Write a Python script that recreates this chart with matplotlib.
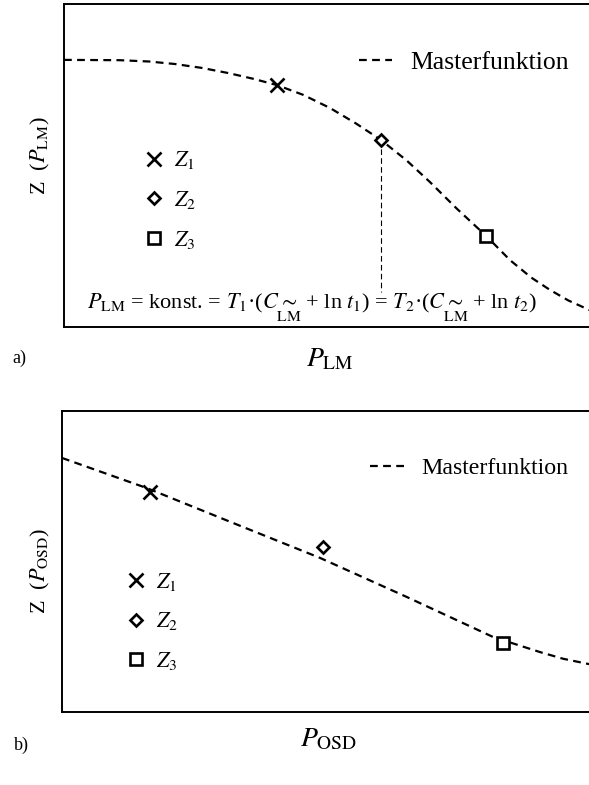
"""Masterfunktion sketch: Z over P_LM (a) and Z over P_OSD (b)."""
import matplotlib
matplotlib.use("Agg")
import matplotlib.pyplot as plt

plt.rcParams["font.family"] = ["Liberation Serif", "DejaVu Serif"]
plt.rcParams["mathtext.fontset"] = "stix"

# --- data (axis units 0..100) ---
master_a_x = [0, 10.5, 16, 21, 26, 31, 35.5, 40.1, 45, 50.1, 55, 59.7, 64.5, 68.9,
              74, 79.5, 84.0, 88, 91.5, 95, 98.9, 101]
master_a_y = [82.7, 82.6, 82.2, 81.4, 80.2, 78.6, 76.9, 74.9, 71.9, 67.8, 63.0, 57.9,
              51.6, 44.9, 36.6, 28.2, 20.7, 15.3, 11.5, 8.2, 5.3, 4.3]
points_a_x = [40.1, 59.7, 79.5]
points_a_y = [74.9, 57.9, 28.2]

master_b_x = [0, 15.9, 32.1, 48.4, 64.7, 80.9, 89.7, 94, 98.9, 101]
master_b_y = [84.4, 74.4, 62.8, 51.2, 38.2, 24.9, 19.9, 17.7, 15.9, 15.2]
points_b_x = [16.5, 49.0, 82.7]
points_b_y = [73.1, 54.8, 22.9]

point_labels = [r"$Z_1$", r"$Z_2$", r"$Z_3$"]
markers = ["x", "D", "s"]
marker_sizes = [10, 6, 9]

DASH = (0, (3.5, 2.4))


def draw_panel(ax, mx, my, px, py, sym, master_anchor, fs_master, hl_master,
               pts_anchor, ylab_coords):
    ax.plot(mx, my, color="black", lw=1.6, linestyle=DASH, label="Masterfunktion")
    handles = []
    for x, y, m, ms, lab in zip(px, py, markers, marker_sizes, point_labels):
        h, = ax.plot([x], [y], linestyle="none", marker=m, ms=ms, mew=1.9,
                     mfc="white", mec="black", color="black", label=lab, zorder=4)
        handles.append(h)
    ax.set_xlim(0, 100)
    ax.set_ylim(0, 100)
    ax.set_xticks([])
    ax.set_yticks([])
    for s in ax.spines.values():
        s.set_linewidth(1.4)

    master = ax.legend(handles=ax.lines[:1], loc="center left", bbox_to_anchor=master_anchor,
                       frameon=False, fontsize=fs_master, handlelength=hl_master,
                       handletextpad=0.7, borderpad=0, borderaxespad=0)
    ax.add_artist(master)
    ax.legend(handles=handles, loc="upper left", bbox_to_anchor=pts_anchor, frameon=False,
              fontsize=16, handlelength=0.9, handletextpad=0.45, labelspacing=0.8,
              borderpad=0, borderaxespad=0, numpoints=1)

    ax.set_xlabel(r"$P_{\mathrm{%s}}$" % sym, fontsize=20, labelpad=14)
    ax.set_ylabel(r"Z  ($P_{\mathrm{%s}}$)" % sym, fontsize=16)
    ax.yaxis.set_label_coords(*ylab_coords)


fig = plt.figure(figsize=(5.89, 7.85), dpi=100)
ax_a = fig.add_axes([64 / 589, 1 - 327 / 785, 531 / 589, 323 / 785])
ax_b = fig.add_axes([62 / 589, 1 - 712 / 785, 533 / 589, 301 / 785])

draw_panel(ax_a, master_a_x, master_a_y, points_a_x, points_a_y, "LM",
           (0.555, 0.82), 18.5, 1.3, (0.15, 0.55), (-0.022, 0.53))
draw_panel(ax_b, master_b_x, master_b_y, points_b_x, points_b_y, "OSD",
           (0.578, 0.81), 17.2, 1.45, (0.12, 0.47), (-0.019, 0.47))
ax_b.xaxis.labelpad = 11

fig.text(12 / 589, 1 - 358 / 785, "a)", fontsize=13, va="center", ha="left")
fig.text(14 / 589, 1 - 745 / 785, "b)", fontsize=13, va="center", ha="left")

# vertical guide from Z2 down to the formula
ax_a.plot([points_a_x[1], points_a_x[1]], [points_a_y[1], 10.8], color="black",
          lw=0.8, linestyle=(0, (5, 3)))
ax_a.text(4.3, 6.0,
          r"$P_{\mathrm{LM}}$ = konst. = $T_1$·($C\underset{\mathrm{LM}}{\sim}$ + ln $t_1$)"
          r" = $T_2$·($C\underset{\mathrm{LM}}{\sim}$ + ln $t_2$)",
          fontsize=16, va="center", ha="left")

fig.savefig("out.png", dpi=100)
